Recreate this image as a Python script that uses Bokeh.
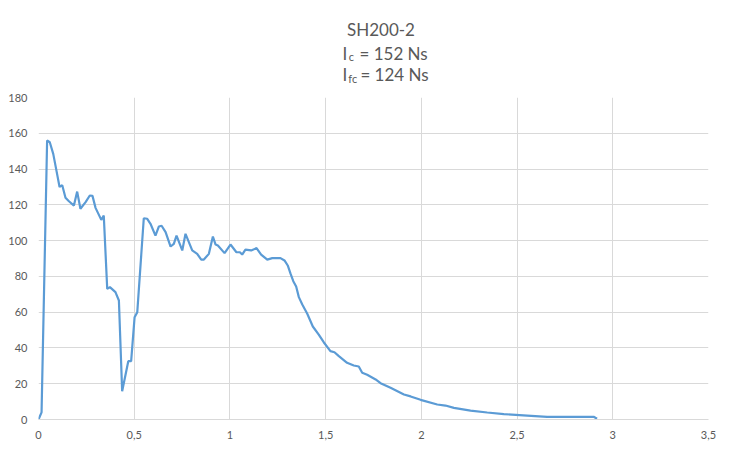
from bokeh.plotting import figure
from bokeh.models import Range1d, FixedTicker
from bokeh.layouts import column
from bokeh.core.properties import value
from bokeh.embed import file_html
from bokeh.resources import INLINE

# data
time_s = [0, 0.016, 0.045, 0.059, 0.077, 0.094, 0.11, 0.124, 0.141, 0.159, 0.185, 0.202,
          0.219, 0.246, 0.268, 0.282, 0.298, 0.328, 0.341, 0.359, 0.373, 0.402, 0.42,
          0.437, 0.469, 0.484, 0.502, 0.516, 0.55, 0.568, 0.585, 0.611, 0.629, 0.643,
          0.664, 0.69, 0.707, 0.721, 0.751, 0.768, 0.803, 0.829, 0.85, 0.864, 0.89,
          0.911, 0.925, 0.937, 0.972, 1.003, 1.034, 1.052, 1.064, 1.081, 1.111, 1.139,
          1.163, 1.195, 1.221, 1.264, 1.285, 1.302, 1.317, 1.331, 1.346, 1.36, 1.378,
          1.404, 1.433, 1.464, 1.49, 1.525, 1.546, 1.569, 1.612, 1.647, 1.673, 1.691,
          1.717, 1.761, 1.787, 1.839, 1.909, 1.944, 1.996, 2.083, 2.126, 2.17, 2.257,
          2.344, 2.431, 2.553, 2.657, 2.779, 2.9, 2.918]
force = [0, 4, 156, 155, 148.5, 139, 130, 131, 124, 122, 119.6, 127.4,
         117.8, 121.5, 125.2, 125, 118.3, 111.6, 114, 73, 74, 71.2, 66.5,
         15.8, 32.6, 32.6, 57.2, 60, 112.5, 112.2, 109.4, 102.8, 107.9, 108.3,
         104.7, 96.7, 98.2, 102.8, 94.5, 103.8, 94.5, 92.6, 89.4, 89.4, 92.6,
         102.3, 97.8, 97.3, 93, 97.8, 93.5, 93.5, 92.2, 95, 94.5, 95.8,
         92.2, 89.4, 90.2, 90.2, 88.9, 86.1, 81.4, 77.3, 74.3, 68.4, 64.3,
         59.1, 52, 47.5, 43.2, 38.2, 37.6, 35.4, 31.7, 30.2, 29.6, 26.1,
         25, 22.4, 20.3, 17.7, 14, 12.9, 11, 8.4, 7.8, 6.5, 5,
         3.9, 3, 2.2, 1.5, 1.5, 1.5, 0.4]

x_ticks = [0, 0.5, 1, 1.5, 2, 2.5, 3, 3.5]
x_tick_labels = ["0", "0,5", "1", "1,5", "2", "2,5", "3", "3,5"]
y_ticks = [0, 20, 40, 60, 80, 100, 120, 140, 160, 180]

title_text = "SH200-2"
line2_main, line2_sub, line2_rest = "I", "c", "= 152 Ns"
line3_main, line3_sub, line3_rest = "I", "fc", "= 124 Ns"

FONT = "Lato"
GREY = "#595959"
GRID = "#d9d9d9"
W = 716
TITLE_H = 90

# ---- title panel (pixel-like coordinates, y downward) ----
t = figure(width=W, height=TITLE_H, output_backend="svg", toolbar_location=None,
           x_range=Range1d(0, W), y_range=Range1d(TITLE_H, 0),
           x_axis_location=None, y_axis_location=None,
           min_border=0, min_border_left=0, min_border_right=0,
           min_border_top=0, min_border_bottom=0)
t.outline_line_color = None
t.grid.visible = False
t.border_fill_color = "white"

def txt(x, y, s, size, align="left"):
    t.text(x=[x], y=[y], text=[s], text_font=value(FONT), text_font_size=size,
           text_color=GREY, text_align=align, text_baseline="alphabetic")

txt(366, 29, title_text, "17px", "center")
txt(325, 52.5, line2_main, "17px")
txt(331.5, 55.5, line2_sub, "11px")
txt(343, 52.5, line2_rest, "17px")
txt(325, 74, line3_main, "17px")
txt(331, 77.5, line3_sub, "11px")
txt(344, 74, line3_rest, "17px")

# ---- main chart ----
p = figure(width=W, height=443 - TITLE_H, output_backend="svg", toolbar_location=None,
           x_range=Range1d(0, 3.5), y_range=Range1d(0, 180),
           min_border_left=38, min_border_right=8, min_border_top=97 - TITLE_H,
           min_border_bottom=24)
p.outline_line_color = None
p.background_fill_color = "white"
p.border_fill_color = "white"

p.line(time_s, force, line_color="#5B9BD5", line_width=2.2)

p.xaxis.ticker = FixedTicker(ticks=x_ticks)
p.xaxis.major_label_overrides = {tk: lb for tk, lb in zip(x_ticks, x_tick_labels)}
p.yaxis.ticker = FixedTicker(ticks=y_ticks)

for ax in (p.xaxis[0], p.yaxis[0]):
    ax.major_tick_line_color = None
    ax.minor_tick_line_color = None
    ax.major_tick_out = 0
    ax.major_tick_in = 0
    ax.major_label_text_color = GREY
    ax.major_label_text_font = FONT
    ax.major_label_text_font_size = "11px"
p.xaxis.axis_line_color = GRID
p.yaxis.axis_line_color = None
p.xaxis.major_label_standoff = 11
p.yaxis.major_label_standoff = 11

p.xgrid.grid_line_color = GRID
p.ygrid.grid_line_color = GRID
p.xgrid.ticker = FixedTicker(ticks=x_ticks)
p.ygrid.ticker = FixedTicker(ticks=y_ticks)

layout = column(t, p, spacing=0)
open("out.html", "w").write(file_html(layout, INLINE))
